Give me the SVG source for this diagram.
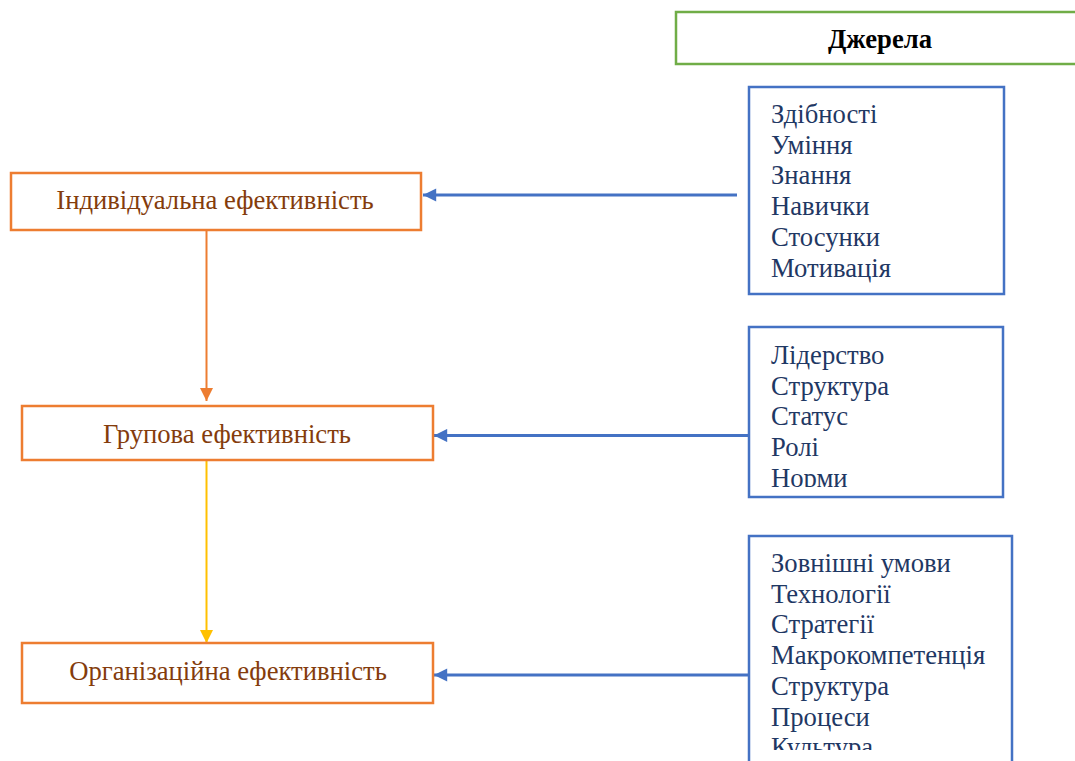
<svg xmlns="http://www.w3.org/2000/svg" width="1075" height="761" viewBox="0 0 1075 761">
<style>
.eff{fill:#fff;stroke:#ED7D31;stroke-width:2.5}
.effT{font-family:"Liberation Serif","Times New Roman",serif;font-size:26.67px;fill:#843C0C;text-anchor:middle}
.src{fill:#fff;stroke:#4472C4;stroke-width:2.5}
.srcT{font-family:"Liberation Serif","Times New Roman",serif;font-size:26.67px;fill:#1F3864}
.blue{stroke:#4472C4;stroke-width:3;fill:none}
</style>
<defs>
<marker id="ab" viewBox="0 0 10 10" refX="10" refY="5" markerWidth="5" markerHeight="4.4" orient="auto" markerUnits="strokeWidth"><path d="M0,0 L10,5 L0,10 z" fill="#4472C4"/></marker>
<marker id="ao" viewBox="0 0 10 10" refX="10" refY="5" markerWidth="6.5" markerHeight="7.5" orient="auto" markerUnits="strokeWidth"><path d="M0,0 L10,5 L0,10 z" fill="#ED7D31"/></marker>
<marker id="ay" viewBox="0 0 10 10" refX="10" refY="5" markerWidth="6.5" markerHeight="7.5" orient="auto" markerUnits="strokeWidth"><path d="M0,0 L10,5 L0,10 z" fill="#FFC000"/></marker>
<clipPath id="c2"><rect x="749" y="327" width="255" height="160"/></clipPath>
<clipPath id="c3"><rect x="749" y="535" width="263" height="215"/></clipPath>
</defs>
<g id="header">
<rect x="676" y="12" width="410" height="52" fill="#fff" stroke="#70AD47" stroke-width="2.5"/>
<text x="880" y="48" font-family="'Liberation Serif','Times New Roman',serif" font-size="26.67" font-weight="bold" text-anchor="middle" fill="#000">Джерела</text>
</g>
<g id="connectors">
<line class="blue" x1="737" y1="195" x2="423" y2="195" marker-end="url(#ab)"/>
<line class="blue" x1="749" y1="435.5" x2="434" y2="435.5" marker-end="url(#ab)"/>
<line class="blue" x1="749" y1="675" x2="434" y2="675" marker-end="url(#ab)"/>
<line x1="206.5" y1="231" x2="206.5" y2="401" stroke="#ED7D31" stroke-width="2" marker-end="url(#ao)"/>
<line x1="206.5" y1="460" x2="206.5" y2="643" stroke="#FFC000" stroke-width="2" marker-end="url(#ay)"/>
</g>
<g id="node-individual">
<rect class="eff" x="11" y="173" width="410" height="57"/>
<text class="effT" x="215" y="209">Індивідуальна ефективність</text>
</g>
<g id="node-group">
<rect class="eff" x="22" y="406" width="411" height="54"/>
<text class="effT" x="227" y="443">Групова ефективність</text>
</g>
<g id="node-org">
<rect class="eff" x="22" y="643" width="411" height="60"/>
<text class="effT" x="228" y="680">Організаційна ефективність</text>
</g>
<g id="src-individual">
<rect class="src" x="749" y="87" width="255" height="207"/>
<text class="srcT"><tspan x="771" y="123">Здібності</tspan><tspan x="771" y="153.7">Уміння</tspan><tspan x="771" y="184.4">Знання</tspan><tspan x="771" y="215.1">Навички</tspan><tspan x="771" y="245.8">Стосунки</tspan><tspan x="771" y="276.5">Мотивація</tspan></text>
</g>
<g id="src-group">
<rect class="src" x="749" y="327" width="254" height="170"/>
<text class="srcT" clip-path="url(#c2)"><tspan x="771" y="364">Лідерство</tspan><tspan x="771" y="394.7">Структура</tspan><tspan x="771" y="425.4">Статус</tspan><tspan x="771" y="456.1">Ролі</tspan><tspan x="771" y="486.8">Норми</tspan></text>
</g>
<g id="src-org">
<rect class="src" x="749" y="536" width="263" height="240"/>
<text class="srcT" clip-path="url(#c3)"><tspan x="771" y="572">Зовнішні умови</tspan><tspan x="771" y="602.7">Технології</tspan><tspan x="771" y="633.4">Стратегії</tspan><tspan x="771" y="664.1">Макрокомпетенція</tspan><tspan x="771" y="694.8">Структура</tspan><tspan x="771" y="725.5">Процеси</tspan><tspan x="771" y="756.2">Культура</tspan></text>
</g>
</svg>
